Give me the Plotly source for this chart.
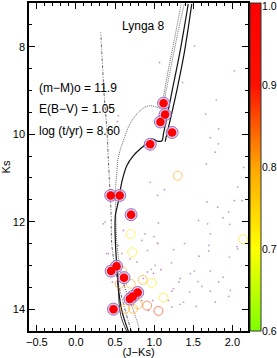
import plotly.graph_objects as go

# ---------------- data ----------------
# cluster members (high membership probability)
mem_x = [1.12, 1.14, 1.08, 1.23, 0.95, 0.445, 0.56, 0.705, 0.52, 0.45, 0.615, 0.79, 0.727, 0.69, 0.48]
mem_k = [9.29, 9.55, 9.72, 9.96, 10.23, 11.40, 11.40, 11.84, 13.02, 13.13, 13.28, 13.62, 13.71, 13.77, 14.00]
mem_p = [1.0] * 15

# lower-probability stars (open circles)
low_x = [1.30, 2.14, 0.70, 0.72, 0.59, 0.855, 0.97, 0.70, 0.56, 1.12, 0.79, 0.91, 0.63, 0.73, 1.055]
low_k = [10.95, 12.40, 12.28, 12.70, 13.13, 13.33, 13.40, 13.42, 13.42, 13.74, 13.89, 13.92, 13.99, 13.99, 14.04]
low_p = [0.80, 0.74, 0.72, 0.72, 0.80, 0.80, 0.72, 0.80, 0.82, 0.73, 0.80, 0.86, 0.80, 0.80, 0.88]

# field stars (small dots)
fld_x = [1.675, 1.812, 1.953, 1.880, 1.568, 1.684, 1.966, 1.055, 1.718, 1.000, 1.043, 1.389, 1.248, 1.701,
         1.697, 2.060, 0.915, 1.962, 1.573, 1.222, 1.013, 1.086, 0.962, 1.513, 1.718, 0.863, 1.333, 1.316,
         1.560, 1.825, 1.611, 1.453, 1.248, 1.226, 1.718, 1.974, 1.953, 1.183, 1.376, 1.333, 1.226, 1.538,
         1.782, 1.462, 1.880, 2.026, 2.145, 2.068, 2.026, 2.124, 2.068, 1.517, 1.068, 1.795, 1.658, 1.825,
         1.718, 1.821, 1.667, 1.782, 0.530, 0.949, 1.043, 1.132, 0.350, 0.607, 0.542, 0.885, 0.842, 1.047,
         0.692, 0.778, 0.427, 0.466, 0.915, 0.992, 0.615, 0.842, 0.927, 0.983, 0.393, 0.586, 0.650, 0.372,
         0.414, 0.542, 1.363]
fld_k = [11.55, 11.67, 11.78, 11.91, 11.97, 12.05, 12.06, 12.03, 12.28, 12.34, 12.49, 12.50, 12.64, 12.54,
         12.67, 12.57, 12.66, 12.81, 12.79, 12.94, 13.00, 13.10, 13.09, 13.13, 13.13, 13.30, 13.30, 13.38,
         13.37, 13.38, 13.48, 13.61, 13.53, 13.59, 13.59, 13.57, 13.71, 13.80, 13.84, 13.89, 13.95, 13.94,
         13.84, 13.19, 13.27, 8.55, 10.76, 11.21, 11.52, 11.52, 12.62, 7.98, 8.36, 9.22, 9.54, 9.88,
         10.08, 10.22, 10.68, 10.41, 9.71, 11.10, 11.40, 11.27, 12.05, 12.20, 12.54, 12.28, 12.43, 12.50,
         12.85, 12.92, 13.04, 13.38, 13.15, 13.18, 13.46, 13.80, 14.03, 13.80, 12.73, 12.73, 13.84, 12.01,
         12.73, 9.58, 8.82]

# isochrone, log(t/yr) = 8.60 (solid)
iso_a_x = [0.671, 0.586, 0.542, 0.522, 0.504, 0.504, 0.542, 0.586, 0.650, 0.735, 0.821, 0.910, 0.983,
           1.038, 1.099, 1.119, 1.154, 1.231, 1.333, 1.436]
iso_a_k = [14.51, 14.03, 13.50, 13.00, 12.43, 11.86, 11.55, 11.10, 10.72, 10.49, 10.34, 10.21, 10.11,
           10.16, 10.15, 9.99, 9.69, 9.00, 8.09, 7.02]
iso_b_x = [1.141, 1.173, 1.218, 1.295, 1.385, 1.481]
iso_b_k = [10.17, 9.92, 9.58, 8.96, 8.14, 7.02]
iso_c_x = [0.650, 0.573, 0.542, 0.532]
iso_c_k = [14.51, 14.14, 13.57, 13.00]

# younger isochrone (dotted)
iso_d_x = [0.821, 0.735, 0.650, 0.564, 0.522, 0.509, 0.509, 0.522, 0.542, 0.606, 0.692, 0.799, 0.885,
           0.949, 1.013, 1.077, 1.103, 1.119, 1.179, 1.256, 1.346]
iso_d_k = [14.51, 14.03, 13.64, 13.04, 12.43, 11.63, 11.17, 10.88, 10.53, 10.15, 9.76, 9.50, 9.38,
           9.35, 9.37, 9.40, 9.30, 9.16, 8.55, 7.86, 7.02]
iso_e_x = [1.128, 1.205, 1.295, 1.385]
iso_e_k = [9.23, 8.55, 7.75, 7.02]

# youngest isochrone (dash-dot)
iso_f_x = [0.712, 0.692, 0.606, 0.542, 0.491, 0.458, 0.449, 0.436, 0.414, 0.394, 0.363, 0.340, 0.317]
iso_f_k = [14.51, 14.41, 13.87, 13.41, 12.95, 12.50, 11.78, 11.33, 10.56, 9.84, 9.16, 8.43, 7.67]

# colour bar
cb_min, cb_max = 0.6, 1.0
cb_ticks = [0.6, 0.7, 0.8, 0.9, 1.0]
cb_labels = ["0.6", "0.7", "0.8", "0.9", "1.0"]

cscale = [[0.0, "#7fff00"], [0.25, "#ffff00"], [0.5, "#ffa500"], [0.75, "#ff1000"], [1.0, "#ff0000"]]
FONT = "Liberation Sans, Arial, Helvetica, sans-serif"

fig = go.Figure()

fig.add_trace(go.Scatter(x=fld_x, y=fld_k, mode="markers",
                         marker=dict(size=1.8, color="#c898cc", line=dict(width=0)),
                         showlegend=False, hoverinfo="skip"))

for xs, ks, dash, col, w in [
        (iso_f_x, iso_f_k, "3px,1.5px,1px,1.5px", "#444444", 0.8),
        (iso_d_x, iso_d_k, "1px,1px", "#555555", 0.9),
        (iso_e_x, iso_e_k, "1px,1px", "#555555", 0.9),
        (iso_a_x, iso_a_k, "solid", "#111111", 1.2),
        (iso_b_x, iso_b_k, "solid", "#111111", 1.2),
        (iso_c_x, iso_c_k, "solid", "#222222", 0.9)]:
    fig.add_trace(go.Scatter(x=xs, y=ks, mode="lines", line=dict(color=col, width=w, dash=dash, shape="spline"),
                             showlegend=False, hoverinfo="skip"))

fig.add_trace(go.Scatter(x=low_x, y=low_k, mode="markers",
                         marker=dict(symbol="circle-open", size=9, color=low_p, colorscale=cscale,
                                     cmin=cb_min, cmax=cb_max, line=dict(width=1)),
                         opacity=0.6, showlegend=False))

fig.add_trace(go.Scatter(x=mem_x, y=mem_k, mode="markers",
                         marker=dict(size=12, color="rgba(215,190,235,0.7)",
                                     line=dict(color="#9a6cc0", width=1)),
                         showlegend=False, hoverinfo="skip"))

fig.add_trace(go.Scatter(x=mem_x, y=mem_k, mode="markers",
                         marker=dict(size=8.5, color=mem_p, colorscale=cscale, cmin=cb_min, cmax=cb_max,
                                     line=dict(width=0),
                                     colorbar=dict(x=1.009, xanchor="left", y=0.5, yanchor="middle",
                                                   len=1.0, lenmode="fraction", thickness=11,
                                                   xpad=0, ypad=0,
                                                   outlinecolor="#333333", outlinewidth=1,
                                                   tickvals=cb_ticks, showticklabels=False,
                                                   ticks="")),
                         showlegend=False))

# colour bar labels (placed as text beside the bar)
for v, lab in zip(cb_ticks, cb_labels):
    fig.add_annotation(xref="paper", yref="paper", x=1.06, y=(v - cb_min) / (cb_max - cb_min),
                       text=lab, showarrow=False, xanchor="left", yanchor="middle",
                       yshift=-3 if v == cb_max else 0, borderpad=0,
                       font=dict(family=FONT, size=10.5, color="black"))

anns = [("Lynga 8", 0.86, 7.52, "center"),
        ("(m−M)o = 11.9", -0.50, 8.94, "left"),
        ("E(B−V) = 1.05", -0.50, 9.42, "left"),
        ("log (t/yr) = 8.60", -0.50, 9.92, "left")]
for t, ax, ay, al in anns:
    fig.add_annotation(x=ax, y=ay, text=t, showarrow=False, xanchor=al, yanchor="middle",
                       font=dict(family=FONT, size=12, color="black"))

fig.update_xaxes(range=[-0.6, 2.2], tickvals=[-0.5, 0.0, 0.5, 1.0, 1.5, 2.0],
                 ticktext=["−0.5", "0.0", "0.5", "1.0", "1.5", "2.0"],
                 ticks="inside", ticklen=6, tickwidth=1, tickcolor="black",
                 minor=dict(dtick=0.1, tick0=0, ticks="inside", ticklen=3, tickcolor="black"),
                 showline=True, linecolor="black", linewidth=1.5, mirror="allticks",
                 showgrid=False, zeroline=False,
                 tickfont=dict(family=FONT, size=11, color="black"),
                 title=dict(text="(J−Ks)", font=dict(family=FONT, size=11, color="black"), standoff=2))
fig.update_yaxes(range=[14.5, 7.0], tickvals=[8, 10, 12, 14],
                 ticks="inside", ticklen=6, tickwidth=1, tickcolor="black",
                 minor=dict(dtick=0.5, tick0=0, ticks="inside", ticklen=3, tickcolor="black"),
                 showline=True, linecolor="black", linewidth=1.5, mirror="allticks",
                 showgrid=False, zeroline=False,
                 tickfont=dict(family=FONT, size=11, color="black"),
                 title=dict(text="Ks", font=dict(family=FONT, size=11, color="black"), standoff=6))

fig.update_layout(width=277, height=358, margin=dict(l=29, r=29, t=3, b=27, autoexpand=False),
                  plot_bgcolor="white", paper_bgcolor="white", font=dict(family=FONT))

fig.write_html("out.html", config={"displayModeBar": False},
               post_script="document.body.style.margin='0';document.body.style.overflow='hidden';")
